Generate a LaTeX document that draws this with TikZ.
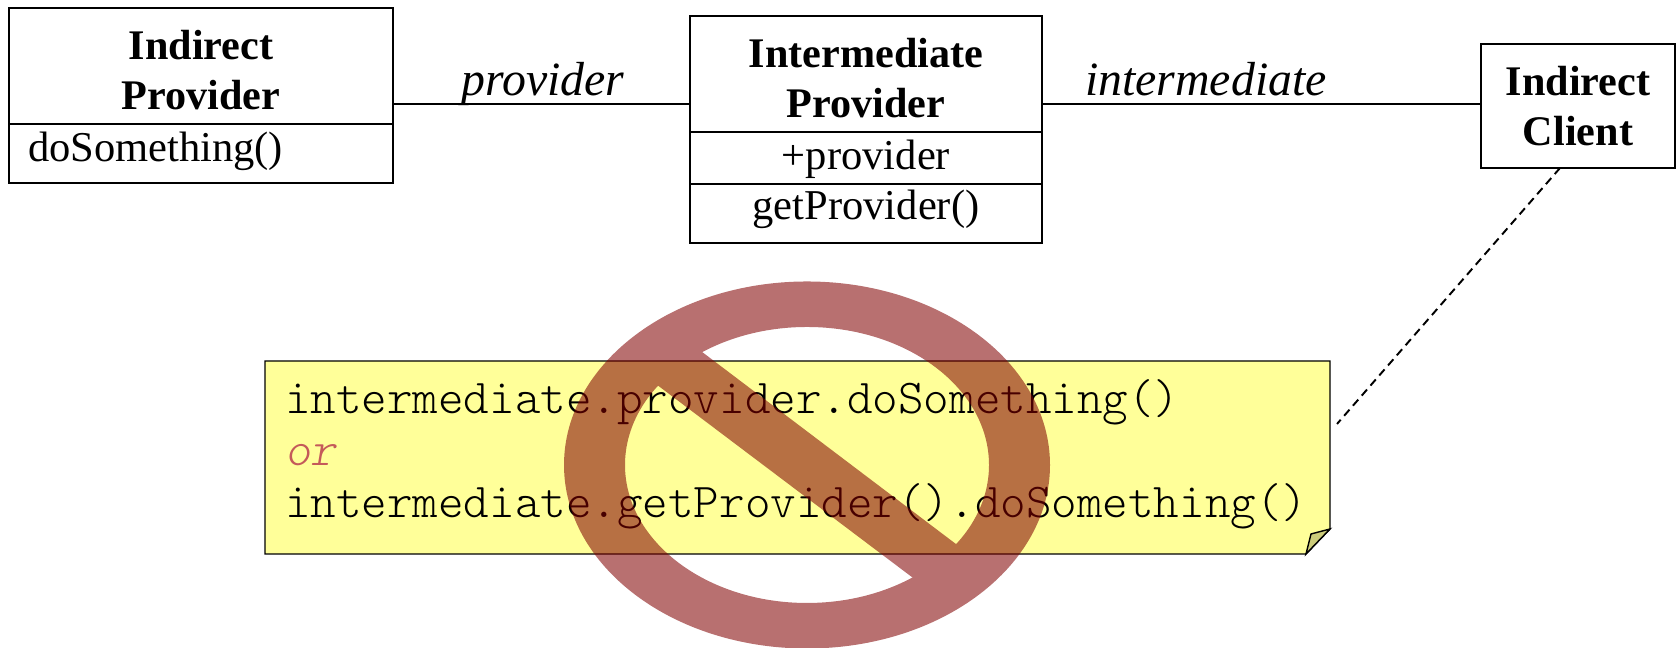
\documentclass[tikz,border=0pt]{standalone}
\usepackage{fontspec}
\setmainfont{Liberation Serif}
\setmonofont{Latin Modern Mono Light}
\usepackage{xcolor}
\usepackage{tikz}
\usetikzlibrary{
  positioning,
  backgrounds,
  calc
}
\definecolor{noteyellow}{HTML}{FFFF99}
\definecolor{notefold}{HTML}{CCCC7A}
\definecolor{banred}{HTML}{800000}
\definecolor{orred}{HTML}{C45A5A}
\newcommand{\headstrut}{\rule{0pt}{10.6pt}}

\begin{document}
\begin{tikzpicture}[
  font=\fontsize{12.1}{14.4}\selectfont,
  node distance=0cm,
  line width=0.65pt,
  head/.style={
    rectangle, draw=black, fill=white,
    outer sep=0pt, inner xsep=0pt, inner ysep=0pt,
    align=center, font=\fontsize{12}{14.4}\selectfont\bfseries
  },
  member/.style={
    rectangle, draw=black, fill=white,
    outer sep=0pt, inner xsep=0pt, inner ysep=0pt,
    align=center
  },
  role/.style={font=\fontsize{13.6}{16}\selectfont\itshape, inner sep=2pt, text depth=0pt},
  note/.style={
    rectangle, outer sep=0pt, inner sep=0pt,
    minimum width=10.65cm, minimum height=1.93cm
  },
  code/.style={
    text width=10.25cm, align=left, inner sep=0pt,
    font=\fontsize{13.85}{14.75}\selectfont\ttfamily
  },
]
\useasboundingbox (0,0) rectangle (16.8,6.48);

% Indirect Provider
\node[head, minimum width=3.84cm, minimum height=1.16cm] (provHead) at (2.01,5.82)
  {\headstrut Indirect\\Provider};
\node[member, minimum width=3.84cm, minimum height=0.59cm, text width=3.46cm, align=left,
  text height=8pt, text depth=3.7pt, below=of provHead] (provOps)
  {doSomething()};

% Intermediate Provider
\node[head, minimum width=3.525cm, minimum height=1.16cm] (interHead) at (8.66,5.74)
  {\headstrut Intermediate\\Provider};
\node[member, minimum width=3.525cm, minimum height=0.52cm,
  text height=9pt, text depth=2.2pt, below=of interHead] (interAttr)
  {+provider};
\node[member, minimum width=3.525cm, minimum height=0.59cm,
  text height=8pt, text depth=4.6pt, below=of interAttr] (interOps)
  {getProvider()};

% Indirect Client
\node[head, minimum width=1.94cm, minimum height=1.24cm] (client) at (15.78,5.42)
  {Indirect\\Client};

% Note
\node[note] (note) at (7.975,1.905) {};
\node[code] (noteText) at ($(note.center)+(0,0.03)$) {%
  intermediate.provider.doSomething()\\
  {\color{orred}\itshape or}\\
  intermediate.getProvider().doSomething()
};
\begin{scope}[on background layer]
  \draw[fill=noteyellow] (note.north west) -- (note.north east)
    -- ($(note.south east)+(0,0.25)$) -- ($(note.south east)+(-0.24,0)$)
    -- (note.south west) -- cycle;
  \draw[fill=notefold] ($(note.south east)+(0,0.25)$) -- ($(note.south east)+(-0.19,0.2)$)
    -- ($(note.south east)+(-0.24,0)$) -- cycle;
\end{scope}

% Associations
\coordinate (assoc) at (0,5.44);
\draw (provHead.east |- assoc) -- (interHead.west |- assoc)
  node[role, pos=0.505, above] (roleProvider) {provider};
\draw (interHead.east |- assoc) -- (client.west |- assoc)
  node[role, pos=0.373, above] (roleInter) {intermediate};

% Note link
\draw[line width=0.55pt, dash pattern=on 2.3pt off 1.5pt]
  ($(client.south)+(-0.18,0)$) -- ($(note.north east)+(0.07,-0.63)$);

% Prohibition sign
\begin{scope}[transparency group, opacity=0.56]
  \fill[banred, even odd rule] (8.07,1.83) ellipse [x radius=2.43, y radius=1.835]
    (8.07,1.83) ellipse [x radius=1.82, y radius=1.38];
  \fill[banred] (6.77,3.15) -- (9.81,0.85) -- (9.37,0.52) -- (6.32,2.82) -- cycle;
\end{scope}

\end{tikzpicture}
\end{document}
